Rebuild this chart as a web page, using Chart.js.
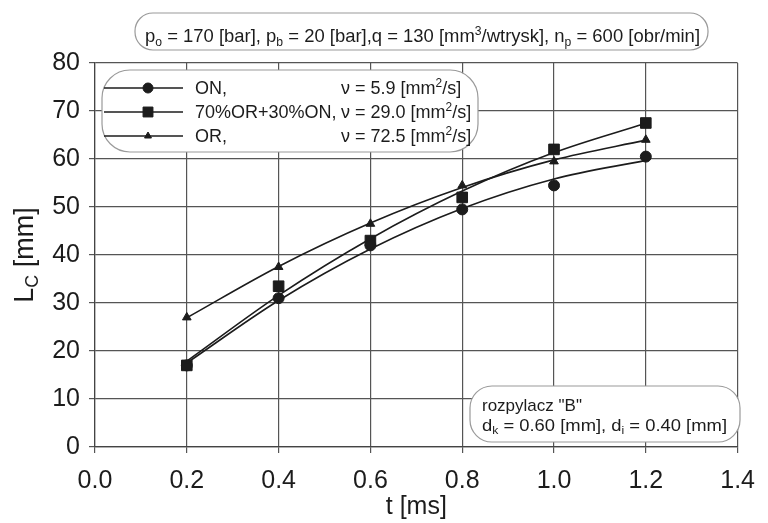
<!DOCTYPE html>
<html>
<head>
<meta charset="utf-8">
<script src="https://cdn.jsdelivr.net/npm/chart.js@4.4.1/dist/chart.umd.min.js"></script>
<style>
  html, body { margin: 0; padding: 0; background: #fff; }
</style>
</head>
<body>
<canvas id="lc-chart" width="768" height="523"></canvas>
<script>
// injection time t [ms] and measured spray penetration Lc [mm]
var tValues = [0.2, 0.4, 0.6, 0.8, 1.0, 1.2];
var lcON  = [17.0, 31.0, 42.0, 49.5, 54.5, 60.5];
var lcMix = [17.0, 33.5, 43.0, 52.0, 62.0, 67.5];
var lcOR  = [27.0, 37.5, 46.5, 54.5, 59.5, 64.0];

var seriesNames = ['ON,', '70%OR+30%ON,', 'OR,'];
var viscosity = ['5.9', '29.0', '72.5'];
var markerStyles = ['circle', 'rect', 'triangle'];
var markerSizes = [5.5, 7.5, 5];

var FONT = "'Liberation Sans', Arial, sans-serif";
var INK = '#1c1c1c';

// least squares 2nd order trend line (like the spreadsheet trendline in the original)
function quadFit(xs, ys) {
  var n = xs.length, s = [0, 0, 0, 0, 0], t = [0, 0, 0];
  for (var i = 0; i < n; i++) {
    var x = xs[i];
    for (var k = 0; k < 5; k++) s[k] += Math.pow(x, k);
    for (var k2 = 0; k2 < 3; k2++) t[k2] += ys[i] * Math.pow(x, k2);
  }
  // solve 3x3 system
  var m = [[s[0], s[1], s[2], t[0]], [s[1], s[2], s[3], t[1]], [s[2], s[3], s[4], t[2]]];
  for (var c = 0; c < 3; c++) {
    for (var r = c + 1; r < 3; r++) {
      var f = m[r][c] / m[c][c];
      for (var j = c; j < 4; j++) m[r][j] -= f * m[c][j];
    }
  }
  var a = [0, 0, 0];
  for (var r2 = 2; r2 >= 0; r2--) {
    var v = m[r2][3];
    for (var j2 = r2 + 1; j2 < 3; j2++) v -= m[r2][j2] * a[j2];
    a[r2] = v / m[r2][r2];
  }
  return xs.map(function (x) { return { x: x, y: a[0] + a[1] * x + a[2] * x * x }; });
}

function points(ys) {
  return tValues.map(function (x, i) { return { x: x, y: ys[i] }; });
}

var allSeries = [lcON, lcMix, lcOR];
var datasets = [];
allSeries.forEach(function (ys, i) {
  datasets.push({
    label: seriesNames[i] + ' trend',
    data: quadFit(tValues, ys),
    showLine: true,
    borderColor: INK,
    borderWidth: 1.6,
    pointRadius: 0,
    cubicInterpolationMode: 'monotone',
    fill: false
  });
});
allSeries.forEach(function (ys, i) {
  datasets.push({
    label: seriesNames[i],
    data: points(ys),
    showLine: false,
    pointStyle: markerStyles[i],
    pointRadius: markerSizes[i],
    pointBackgroundColor: INK,
    pointBorderColor: INK,
    pointBorderWidth: 1
  });
});

// text with sub / superscripts: parts = [[text, mode]] mode 0 normal, 1 sub, 2 sup
function richWidth(ctx, parts, size) {
  var w = 0;
  parts.forEach(function (p) {
    ctx.font = (p[1] ? size * 0.66 : size) + 'px ' + FONT;
    w += ctx.measureText(p[0]).width;
  });
  return w;
}
function drawRich(ctx, parts, x, y, size, targetWidth) {
  var w = richWidth(ctx, parts, size);
  var sx = targetWidth ? targetWidth / w : 1;
  ctx.save();
  ctx.translate(x, y);
  ctx.scale(sx, 1);
  ctx.fillStyle = INK;
  ctx.textAlign = 'left';
  ctx.textBaseline = 'alphabetic';
  var cx = 0;
  parts.forEach(function (p) {
    var mode = p[1] || 0;
    ctx.font = (mode ? size * 0.66 : size) + 'px ' + FONT;
    var dy = mode === 1 ? size * 0.2 : (mode === 2 ? -size * 0.38 : 0);
    ctx.fillText(p[0], cx, dy);
    cx += ctx.measureText(p[0]).width;
  });
  ctx.restore();
  return w * sx;
}
function roundBox(ctx, x, y, w, h, r) {
  ctx.save();
  ctx.beginPath();
  ctx.roundRect(x, y, w, h, r);
  ctx.fillStyle = '#fff';
  ctx.fill();
  ctx.strokeStyle = '#9a9a9a';
  ctx.lineWidth = 1.2;
  ctx.stroke();
  ctx.restore();
}

var annotations = {
  id: 'annotations',
  afterDraw: function (chart) {
    var ctx = chart.ctx;

    // y axis title
    ctx.save();
    ctx.translate(33, 255);
    ctx.rotate(-Math.PI / 2);
    var yParts = [['L', 0], ['C', 1], [' [mm]', 0]];
    var yw = richWidth(ctx, yParts, 27);
    drawRich(ctx, yParts, -yw / 2, 0, 27);
    ctx.restore();

    // conditions box on top
    roundBox(ctx, 135, 13, 573, 37, 18);
    drawRich(ctx, [['p', 0], ['o', 1], [' = 170 [bar], p', 0], ['b', 1],
      [' = 20 [bar],q = 130 [mm', 0], ['3', 2], ['/wtrysk], n', 0], ['p', 1],
      [' = 600 [obr/min]', 0]], 145, 42, 18.5, 555);

    // legend box
    roundBox(ctx, 102, 70, 376, 82, 28);
    var rowsY = [88, 112, 136];
    rowsY.forEach(function (ry, i) {
      ctx.save();
      ctx.strokeStyle = INK;
      ctx.lineWidth = 1.6;
      ctx.beginPath();
      ctx.moveTo(104, ry);
      ctx.lineTo(183, ry);
      ctx.stroke();
      ctx.fillStyle = INK;
      ctx.strokeStyle = INK;
      ctx.lineWidth = 1;
      Chart.helpers.drawPoint(ctx, {
        pointStyle: markerStyles[i], radius: markerSizes[i] - (i === 2 ? 1 : 0.5),
        rotation: 0, borderWidth: 1
      }, 148, ry);
      ctx.restore();
      drawRich(ctx, [[seriesNames[i], 0]], 195, ry + 6, 18);
      drawRich(ctx, [['\u03bd = ' + viscosity[i] + ' [mm', 0], ['2', 2], ['/s]', 0]], 341, ry + 6, 18);
    });

    // nozzle box
    roundBox(ctx, 470, 386, 270, 56, 22);
    drawRich(ctx, [['rozpylacz "B"', 0]], 482, 411, 17);
    drawRich(ctx, [['d', 0], ['k', 1], [' = 0.60 [mm], d', 0], ['i', 1], [' = 0.40 [mm]', 0]], 482, 431, 17, 245);
  }
};

var lcChart = new Chart(document.getElementById('lc-chart').getContext('2d'), {
  type: 'scatter',
  data: { datasets: datasets },
  plugins: [annotations],
  options: {
    responsive: false,
    animation: false,
    layout: { padding: { top: 63, right: 24, left: 0, bottom: 0 } },
    plugins: {
      legend: { display: false },
      tooltip: { enabled: false }
    },
    scales: {
      x: {
        type: 'linear',
        min: 0,
        max: 1.4,
        afterFit: function (scale) { scale.height = 76; },
        ticks: {
          stepSize: 0.2,
          padding: 13,
          color: INK,
          font: { family: FONT, size: 25 },
          callback: function (v) { return v.toFixed(1); }
        },
        grid: { color: '#555', lineWidth: 1.2, tickLength: 6 },
        border: { color: '#444', width: 1.2 },
        title: {
          display: true,
          text: 't [ms]',
          color: INK,
          font: { family: FONT, size: 25 },
          padding: { top: 0, bottom: 1 }
        }
      },
      y: {
        min: 0,
        max: 80,
        afterFit: function (scale) { scale.width = 95; },
        ticks: {
          stepSize: 10,
          padding: 9,
          color: INK,
          font: { family: FONT, size: 25 }
        },
        grid: { color: '#555', lineWidth: 1.2, tickLength: 6 },
        border: { color: '#444', width: 1.2 }
      }
    }
  }
});
</script>
</body>
</html>
